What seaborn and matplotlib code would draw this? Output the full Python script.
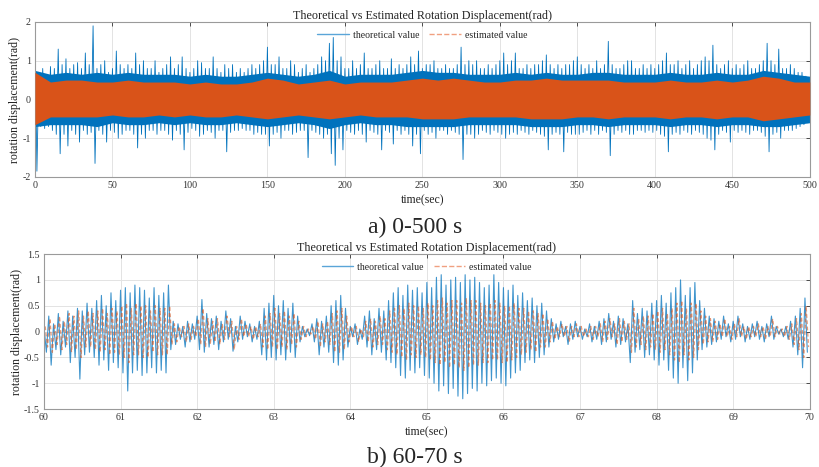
import numpy as np
import pandas as pd
import matplotlib
matplotlib.use('Agg')
import matplotlib.pyplot as plt
import seaborn as sns
from matplotlib.lines import Line2D
from matplotlib.ticker import FormatStrFormatter

# ---- panel a (0-500 s): peak values of the theoretical signal, one pair per 2.5 s
theo_a_hi = [1.95, 0.70, 0.80, 0.60, 0.85, 0.80, 1.30, 0.90, 1.05, 0.80,
             0.90, 0.95, 0.80, 1.20, 0.90, 1.90, 0.80, 0.90, 1.00, 0.70,
             0.80, 1.25, 0.90, 0.80, 0.90, 0.80, 1.20, 0.90, 1.00, 0.80,
             0.80, 1.00, 0.70, 0.80, 0.90, 1.10, 0.80, 0.90, 1.10, 0.80,
             0.70, 0.80, 1.00, 0.95, 0.80, 0.80, 1.10, 0.80, 0.70, 0.90,
             0.80, 0.90, 0.70, 0.80, 0.70, 0.80, 0.90, 0.80, 0.90, 1.00,
             1.35, 0.90, 0.90, 1.10, 0.80, 0.80, 1.00, 0.90, 0.70, 0.80,
             0.90, 0.70, 0.80, 0.90, 1.10, 1.00, 1.45, 1.60, 1.00, 1.10,
             0.80, 0.80, 1.00, 0.80, 0.90, 1.20, 0.80, 0.80, 0.90, 1.00,
             0.80, 0.80, 1.05, 0.80, 0.90, 0.80, 0.90, 1.10, 0.90, 1.25,
             0.80, 0.90, 0.90, 1.00, 0.80, 0.80, 0.90, 0.80, 0.80, 0.90,
             1.35, 0.90, 1.00, 0.90, 1.00, 0.80, 0.80, 0.90, 0.80, 0.90,
             1.00, 1.20, 0.90, 1.00, 1.20, 0.80, 0.80, 0.90, 0.80, 0.90,
             0.90, 1.00, 1.15, 0.90, 0.80, 0.90, 0.80, 0.90, 0.90, 1.00,
             1.10, 0.90, 0.80, 0.90, 0.80, 1.00, 0.80, 0.90, 1.50, 0.90,
             0.80, 0.80, 0.90, 1.00, 1.00, 0.80, 0.80, 0.90, 0.80, 0.90,
             0.80, 0.90, 1.00, 1.20, 0.90, 0.90, 1.00, 0.80, 0.90, 1.00,
             0.80, 0.90, 1.00, 1.10, 1.00, 1.40, 0.90, 0.80, 0.90, 1.00,
             0.80, 0.90, 0.80, 0.90, 1.00, 0.80, 0.80, 0.90, 1.00, 1.45,
             1.00, 0.90, 1.30, 0.80, 0.80, 0.90, 0.80, 0.70, 0.70, 0.60]
theo_a_lo = [-1.85, -0.70, -0.75, -0.70, -0.80, -0.90, -1.40, -0.90, -1.20, -0.80,
             -0.90, -1.10, -0.80, -0.90, -0.85, -1.65, -0.80, -0.90, -1.10, -0.80,
             -0.85, -1.00, -0.90, -0.80, -0.80, -0.90, -1.25, -0.90, -1.00, -0.80,
             -0.80, -0.90, -0.80, -0.80, -0.90, -1.05, -0.80, -0.90, -1.30, -0.85,
             -0.75, -0.80, -0.95, -0.90, -0.80, -0.85, -1.00, -0.80, -0.80, -1.35,
             -0.85, -0.80, -0.80, -0.75, -0.80, -0.80, -0.90, -0.85, -0.90, -0.90,
             -1.20, -0.90, -0.85, -1.00, -0.80, -0.80, -0.90, -0.85, -0.80, -0.80,
             -1.50, -0.80, -0.85, -0.90, -1.00, -0.90, -1.40, -1.70, -1.00, -1.30,
             -0.80, -0.85, -0.90, -0.80, -0.90, -1.10, -0.80, -0.85, -0.90, -1.30,
             -0.80, -0.85, -1.15, -0.80, -0.90, -0.80, -0.90, -1.20, -0.90, -1.40,
             -0.80, -0.90, -0.85, -1.00, -0.80, -0.80, -0.90, -0.80, -0.85, -0.90,
             -1.55, -0.90, -0.90, -1.00, -0.90, -0.80, -0.85, -0.90, -0.80, -0.85,
             -0.90, -1.00, -0.90, -0.85, -0.90, -0.80, -0.85, -0.90, -0.80, -0.85,
             -0.90, -0.95, -1.30, -0.90, -0.85, -0.90, -1.35, -0.85, -0.90, -0.90,
             -0.90, -0.85, -0.80, -0.90, -0.80, -0.90, -0.80, -0.85, -1.45, -0.90,
             -0.80, -0.85, -0.80, -0.90, -0.90, -0.80, -0.80, -0.85, -0.80, -0.85,
             -0.80, -0.90, -0.95, -1.35, -0.90, -0.85, -0.90, -0.80, -0.85, -0.90,
             -0.80, -0.85, -0.90, -1.00, -1.05, -1.30, -0.90, -0.80, -0.85, -1.10,
             -0.80, -0.85, -0.80, -0.85, -0.90, -0.80, -0.80, -0.85, -0.95, -1.35,
             -0.90, -0.85, -1.00, -0.80, -0.80, -0.80, -0.75, -0.70, -0.65, -0.60]

# dense part of both signals in panel a, read every 10 s
band_t = list(range(0, 501, 10))
theo_core_hi = [0.75, 0.65, 0.70, 0.65, 0.70, 0.65, 0.70, 0.65, 0.65, 0.65,
                0.60, 0.65, 0.60, 0.60, 0.65, 0.70, 0.65, 0.60, 0.65, 0.75,
                0.60, 0.65, 0.65, 0.65, 0.70, 0.75, 0.70, 0.70, 0.65, 0.65,
                0.65, 0.70, 0.65, 0.70, 0.65, 0.65, 0.70, 0.70, 0.65, 0.65,
                0.65, 0.70, 0.65, 0.65, 0.70, 0.65, 0.65, 0.75, 0.70, 0.65, 0.60]
theo_core_lo = [-0.70, -0.65, -0.65, -0.65, -0.70, -0.60, -0.65, -0.65, -0.60, -0.65,
                -0.60, -0.65, -0.65, -0.60, -0.65, -0.70, -0.65, -0.60, -0.65, -0.75,
                -0.65, -0.60, -0.65, -0.65, -0.70, -0.70, -0.70, -0.70, -0.65, -0.65,
                -0.65, -0.65, -0.70, -0.70, -0.70, -0.65, -0.65, -0.70, -0.65, -0.65,
                -0.65, -0.70, -0.65, -0.65, -0.70, -0.65, -0.65, -0.70, -0.70, -0.65, -0.60]
est_a_hi = [0.70, 0.45, 0.50, 0.50, 0.45, 0.45, 0.50, 0.45, 0.45, 0.45,
            0.40, 0.45, 0.40, 0.40, 0.45, 0.55, 0.50, 0.40, 0.45, 0.50,
            0.40, 0.45, 0.45, 0.45, 0.50, 0.55, 0.50, 0.55, 0.50, 0.45,
            0.45, 0.50, 0.50, 0.55, 0.50, 0.50, 0.50, 0.50, 0.45, 0.45,
            0.45, 0.50, 0.45, 0.45, 0.50, 0.45, 0.50, 0.60, 0.55, 0.45, 0.45]
est_a_lo = [-0.65, -0.45, -0.45, -0.45, -0.45, -0.40, -0.45, -0.45, -0.40, -0.45,
            -0.40, -0.45, -0.45, -0.40, -0.45, -0.50, -0.45, -0.40, -0.45, -0.50,
            -0.45, -0.40, -0.45, -0.45, -0.45, -0.50, -0.50, -0.50, -0.45, -0.45,
            -0.45, -0.45, -0.50, -0.50, -0.50, -0.45, -0.45, -0.50, -0.45, -0.45,
            -0.45, -0.50, -0.45, -0.45, -0.50, -0.45, -0.45, -0.55, -0.50, -0.45, -0.40]

# ---- panel b (60-70 s): peaks, 16 per second
theo_b_hi = [0.10, 0.30, 0.15, 0.35, 0.20, 0.40, 0.30, 0.45, 0.40, 0.55, 0.45, 0.60, 0.70, 0.50, 0.75, 0.60,
             0.80, 0.85, 0.75, 0.90, 0.85, 0.80, 0.65, 0.85, 0.70, 0.75, 0.90, 0.20, 0.15, 0.10, 0.20, 0.15,
             0.30, 0.62, 0.35, 0.25, 0.30, 0.20, 0.40, 0.25, 0.10, 0.30, 0.20, 0.15, 0.10, 0.20, 0.45, 0.55,
             0.70, 0.50, 0.60, 0.45, 0.55, 0.30, 0.10, 0.05, 0.15, 0.25, 0.20, 0.30, 0.50, 0.60, 0.70, 0.45,
             0.10, 0.15, 0.05, 0.30, 0.40, 0.25, 0.45, 0.40, 0.60, 0.75, 0.85, 0.70, 0.90, 0.80, 0.85, 0.75,
             0.95, 0.85, 1.05, 1.10, 0.90, 1.00, 1.05, 0.95, 1.10, 1.00, 1.05, 0.95, 0.85, 0.90, 1.10, 0.95,
             0.85, 0.80, 0.90, 0.70, 0.75, 0.60, 0.65, 0.50, 0.55, 0.40, 0.25, 0.15, 0.20, 0.10, 0.15, 0.20,
             0.10, 0.05, 0.15, 0.10, 0.20, 0.25, 0.35, 0.20, 0.30, 0.25, 0.15, 0.60, 0.35, 0.45, 0.40, 0.55,
             0.60, 0.70, 0.55, 0.75, 0.85, 1.00, 0.70, 0.85, 0.95, 0.60, 0.45, 0.30, 0.25, 0.20, 0.30, 0.15,
             0.20, 0.30, 0.15, 0.10, 0.15, 0.20, 0.10, 0.15, 0.30, 0.10, 0.05, 0.10, 0.20, 0.30, 0.45, 0.65]
theo_b_lo = [-0.40, -0.65, -0.35, -0.45, -0.30, -0.60, -0.50, -0.92, -0.45, -0.40, -0.50, -0.65, -0.55, -0.75, -0.60, -0.70,
             -0.80, -1.15, -0.80, -0.75, -0.85, -0.80, -0.70, -0.80, -0.75, -0.80, -0.35, -0.25, -0.15, -0.30, -0.20, -0.15,
             -0.35, -0.40, -0.30, -0.25, -0.35, -0.20, -0.15, -0.38, -0.20, -0.15, -0.10, -0.20, -0.15, -0.45, -0.55, -0.50,
             -0.55, -0.45, -0.55, -0.40, -0.50, -0.20, -0.10, -0.08, -0.20, -0.45, -0.30, -0.40, -0.60, -0.65, -0.55, -0.30,
             -0.10, -0.25, -0.15, -0.30, -0.45, -0.35, -0.40, -0.55, -0.60, -0.70, -0.85, -0.90, -0.75, -0.80, -0.70, -0.85,
             -0.90, -1.00, -1.15, -1.05, -1.20, -1.10, -1.25, -1.30, -1.20, -1.10, -1.15, -1.00, -1.05, -0.95, -0.90, -1.00,
             -1.05, -0.90, -0.80, -0.75, -0.60, -0.55, -0.60, -0.50, -0.45, -0.30, -0.20, -0.15, -0.10, -0.25, -0.15, -0.10,
             -0.15, -0.10, -0.20, -0.15, -0.25, -0.20, -0.15, -0.30, -0.25, -0.20, -0.60, -0.40, -0.35, -0.50, -0.45, -0.55,
             -0.65, -0.55, -0.75, -0.90, -1.00, -0.70, -0.95, -0.80, -0.55, -0.35, -0.30, -0.25, -0.20, -0.15, -0.10, -0.20,
             -0.15, -0.10, -0.20, -0.15, -0.10, -0.15, -0.20, -0.10, -0.15, -0.05, -0.10, -0.15, -0.30, -0.45, -0.70, -0.40]
est_b_hi = [0.10, 0.25, 0.15, 0.30, 0.20, 0.35, 0.30, 0.40, 0.30, 0.40, 0.35, 0.40, 0.45, 0.35, 0.45, 0.40,
            0.50, 0.55, 0.45, 0.55, 0.50, 0.50, 0.40, 0.50, 0.45, 0.45, 0.50, 0.15, 0.10, 0.10, 0.15, 0.10,
            0.25, 0.45, 0.25, 0.20, 0.25, 0.15, 0.30, 0.20, 0.10, 0.25, 0.15, 0.10, 0.10, 0.15, 0.30, 0.35,
            0.45, 0.35, 0.40, 0.30, 0.35, 0.20, 0.10, 0.05, 0.10, 0.20, 0.15, 0.20, 0.35, 0.40, 0.45, 0.30,
            0.10, 0.10, 0.05, 0.20, 0.25, 0.20, 0.30, 0.25, 0.40, 0.45, 0.50, 0.45, 0.55, 0.50, 0.50, 0.45,
            0.55, 0.50, 0.60, 0.65, 0.55, 0.60, 0.60, 0.55, 0.65, 0.60, 0.60, 0.55, 0.50, 0.55, 0.60, 0.55,
            0.50, 0.50, 0.55, 0.45, 0.45, 0.40, 0.40, 0.35, 0.35, 0.25, 0.20, 0.10, 0.15, 0.10, 0.10, 0.15,
            0.10, 0.05, 0.10, 0.10, 0.15, 0.20, 0.25, 0.15, 0.25, 0.20, 0.15, 0.45, 0.25, 0.30, 0.30, 0.35,
            0.40, 0.45, 0.35, 0.45, 0.55, 0.60, 0.45, 0.55, 0.55, 0.40, 0.30, 0.25, 0.20, 0.15, 0.25, 0.10,
            0.15, 0.25, 0.10, 0.10, 0.10, 0.15, 0.10, 0.10, 0.25, 0.10, 0.05, 0.10, 0.15, 0.25, 0.35, 0.50]
est_b_lo = [-0.30, -0.40, -0.25, -0.35, -0.25, -0.40, -0.35, -0.50, -0.30, -0.30, -0.35, -0.40, -0.35, -0.45, -0.40, -0.45,
            -0.50, -0.60, -0.45, -0.45, -0.50, -0.50, -0.40, -0.45, -0.45, -0.45, -0.25, -0.20, -0.10, -0.20, -0.15, -0.10,
            -0.25, -0.30, -0.25, -0.20, -0.25, -0.15, -0.10, -0.35, -0.15, -0.10, -0.10, -0.15, -0.10, -0.30, -0.35, -0.30,
            -0.35, -0.30, -0.35, -0.25, -0.30, -0.15, -0.10, -0.05, -0.15, -0.30, -0.20, -0.25, -0.40, -0.40, -0.35, -0.20,
            -0.10, -0.20, -0.10, -0.20, -0.30, -0.25, -0.25, -0.35, -0.40, -0.45, -0.50, -0.55, -0.45, -0.50, -0.45, -0.50,
            -0.55, -0.60, -0.65, -0.60, -0.70, -0.65, -0.70, -0.75, -0.70, -0.65, -0.65, -0.60, -0.60, -0.55, -0.55, -0.60,
            -0.60, -0.55, -0.50, -0.45, -0.40, -0.35, -0.40, -0.30, -0.30, -0.20, -0.15, -0.10, -0.10, -0.20, -0.10, -0.10,
            -0.10, -0.10, -0.15, -0.10, -0.20, -0.15, -0.10, -0.25, -0.20, -0.15, -0.40, -0.30, -0.25, -0.35, -0.30, -0.35,
            -0.40, -0.35, -0.45, -0.55, -0.60, -0.45, -0.55, -0.50, -0.35, -0.25, -0.20, -0.20, -0.15, -0.10, -0.10, -0.15,
            -0.10, -0.10, -0.15, -0.10, -0.10, -0.10, -0.15, -0.10, -0.10, -0.05, -0.10, -0.15, -0.25, -0.35, -0.50, -0.30]

title_txt = 'Theoretical vs Estimated Rotation Displacement(rad)'
legend_labels = ['theoretical value', 'estimated value']

BLUE = '#0072BD'
ORANGE = '#D95319'


def zigzag(t0, step, hi, lo):
    # put each high peak and the following low peak one after another
    t_hi = t0 + np.arange(len(hi)) * step
    t = np.column_stack([t_hi, t_hi + step / 2]).ravel()
    y = np.column_stack([hi, lo]).ravel()
    return pd.DataFrame({'t': t, 'y': y})


sns.set_theme(style='white')
plt.rcParams['font.family'] = ['Liberation Serif', 'DejaVu Serif']
plt.rcParams['axes.unicode_minus'] = False

fig = plt.figure(figsize=(8.19, 4.67), dpi=100)
ax1 = fig.add_axes([0.0427, 0.621, 0.946, 0.332])
ax2 = fig.add_axes([0.0537, 0.124, 0.935, 0.332])

# panel a
df_a = zigzag(0.0, 2.5, theo_a_hi, theo_a_lo)
ax1.fill_between(band_t, theo_core_lo, theo_core_hi, color=BLUE, linewidth=0, zorder=2)
sns.lineplot(data=df_a, x='t', y='y', ax=ax1, sort=False, estimator=None,
             color=BLUE, linewidth=0.6, zorder=2.5)
ax1.fill_between(band_t, est_a_lo, est_a_hi, color=ORANGE, linewidth=0, zorder=3)
ax1.set_xlim(0, 500)
ax1.set_ylim(-2, 2)
ax1.set_xticks(range(0, 501, 50))
ax1.set_yticks([-2, -1, 0, 1, 2])

# panel b
df_b = zigzag(60.0, 1 / 16, theo_b_hi, theo_b_lo)
df_be = zigzag(60.0 + 1 / 64, 1 / 16, est_b_hi, est_b_lo)
sns.lineplot(data=df_b, x='t', y='y', ax=ax2, sort=False, estimator=None,
             color=BLUE, linewidth=0.8, alpha=0.75)
sns.lineplot(data=df_be, x='t', y='y', ax=ax2, sort=False, estimator=None,
             color=ORANGE, linewidth=0.9, alpha=0.6)
ax2.lines[-1].set_dashes((3, 2))
ax2.set_xlim(60, 70)
ax2.set_ylim(-1.5, 1.5)
ax2.set_xticks(range(60, 71))
ax2.set_yticks([-1.5, -1, -0.5, 0, 0.5, 1, 1.5])

for ax in (ax1, ax2):
    ax.yaxis.set_major_formatter(FormatStrFormatter('%g'))
    ax.grid(True, color='#e3e3e3', linewidth=0.7)
    ax.tick_params(direction='in', length=3, width=0.6, labelsize=7.2,
                   top=True, right=True, pad=3, colors='#333333')
    for sp in ax.spines.values():
        sp.set_color('#9a9a9a')
        sp.set_linewidth(0.8)
    ax.set_title(title_txt, fontsize=8.7, pad=2, color='#222222')
    ax.set_xlabel('time(sec)', fontsize=8.5, labelpad=3, color='#222222')
    ax.set_ylabel('rotation displacement(rad)', fontsize=8.6, labelpad=1, color='#222222')
    handles = [Line2D([], [], color='#5aa5d8', linewidth=1),
               Line2D([], [], color='#f0a080', linewidth=1, linestyle='--')]
    ax.legend(handles, legend_labels, loc='upper center', ncol=2, frameon=False,
              fontsize=7.1, handlelength=3.2, columnspacing=1.0, handletextpad=0.4,
              borderaxespad=0.5)

fig.text(0.507, 0.514, 'a) 0-500 s', ha='center', va='center', fontsize=17)
fig.text(0.507, 0.021, 'b) 60-70 s', ha='center', va='center', fontsize=17)

fig.savefig('out.png', dpi=100)
